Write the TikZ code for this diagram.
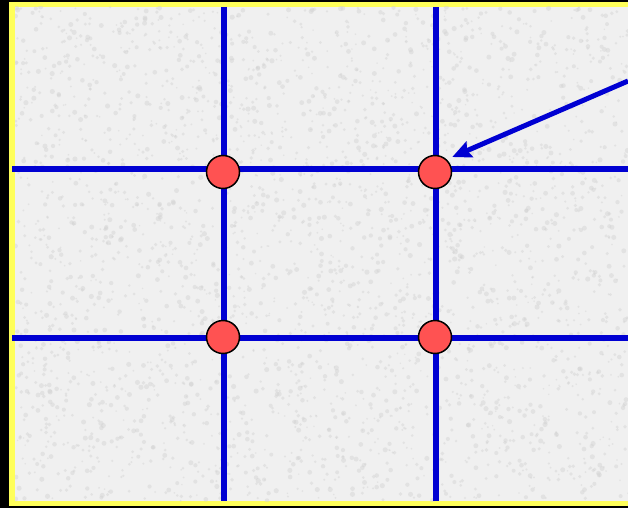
\documentclass[tikz,border=0pt]{standalone}
\usepackage{tikz}
\usetikzlibrary{arrows.meta}

\definecolor{gridblue}{RGB}{0,0,210}
\definecolor{dotred}{RGB}{255,82,82}
\definecolor{frameyellow}{RGB}{255,255,90}
\definecolor{paper}{RGB}{240,240,240}
\definecolor{speckgray}{RGB}{210,210,210}

\tikzset{
  gridline/.style={gridblue, line width=6pt},
  crossdot/.style={circle, draw=black, line width=1.5pt, fill=dotred, minimum size=33pt, inner sep=0pt},
  speck/.style={fill=speckgray, opacity=0.45}
}

\begin{document}
\begin{tikzpicture}[x=1pt, y=-1pt]
\useasboundingbox (0,0) rectangle (628,508);
\fill[black] (0,0) rectangle (628,508);
\fill[frameyellow] (9,2) rectangle (640,506);
\fill[paper] (15,7) rectangle (628,501);

% mottled paper
\pgfmathsetseed{11}
\begin{scope}
\clip (15,7) rectangle (628,501);
\foreach \i in {1,...,3200}
  \fill[speck] ({15+613*rnd},{7+494*rnd}) circle ({0.8+1.8*rnd});
\end{scope}

% thirds
\draw[gridline] (223.5,7) -- (223.5,501);
\draw[gridline] (435.5,7) -- (435.5,501);
\draw[gridline] (12,168.5) -- (628,168.5);
\draw[gridline] (12,338) -- (628,338);

\node[crossdot] (tl) at (223,172) {};
\node[crossdot] (tr) at (435,172) {};
\node[crossdot] (bl) at (223,337) {};
\node[crossdot] (br) at (435,337) {};

\coordinate (src) at (628,81);
\draw[gridblue, line width=5pt, -{Stealth[length=19pt,width=17pt,inset=3pt]}, shorten >=6pt] (src) -- (tr.47);
\end{tikzpicture}
\end{document}
